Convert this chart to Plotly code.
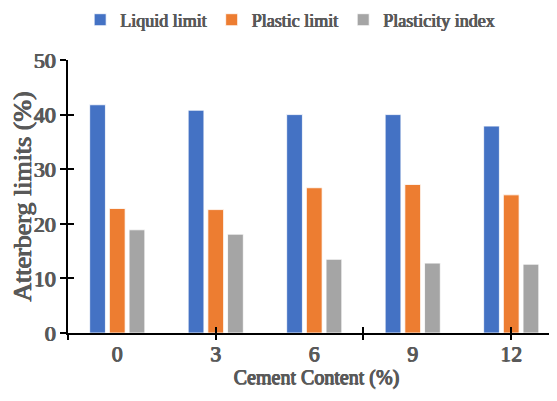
import plotly.graph_objects as go

categories = ["0", "3", "6", "9", "12"]
liquid_limit = [41.8, 40.8, 40.0, 40.0, 37.9]
plastic_limit = [22.8, 22.6, 26.6, 27.2, 25.3]
plasticity_index = [18.9, 18.1, 13.5, 12.8, 12.6]

series = [
    ("Liquid limit", liquid_limit, "#4472C4"),
    ("Plastic limit", plastic_limit, "#ED7D31"),
    ("Plasticity index", plasticity_index, "#A5A5A5"),
]

FONT = "Liberation Serif"
GREY = "#595959"
SH = "0.6px 0 0 #595959, -0.5px 0 0 #595959, 0 0.4px 0 #595959"


def f(size):
    return dict(family=FONT, size=size, color=GREY, weight="normal", shadow=SH)


fig = go.Figure()
for name, vals, col in series:
    fig.add_trace(go.Bar(
        x=categories, y=vals, name=name,
        marker=dict(color=col, line=dict(color="rgba(255,255,255,0.8)", width=1)),
    ))

fig.add_trace(go.Scatter(x=[], y=[], xaxis="x2", yaxis="y2", showlegend=False, hoverinfo="skip"))
fig.add_trace(go.Scatter(x=[], y=[], xaxis="x3", yaxis="y", showlegend=False, hoverinfo="skip"))

xr = [-0.5, 4.546]
tick_common = dict(tickwidth=1.5, tickcolor="black", ticklen=6,
                   showgrid=False, zeroline=False, automargin=False)
fig.update_layout(
    width=557, height=401,
    margin=dict(l=60, r=0, t=52, b=76, autoexpand=False),
    paper_bgcolor="white", plot_bgcolor="white",
    barmode="group", bargap=0.4, bargroupgap=0.2,
    font=f(20),
    legend=dict(
        orientation="h", x=0.447, xanchor="center", y=1.1465, yanchor="middle",
        font=f(18), itemwidth=30, tracegroupgap=0, itemclick=False,
    ),
    xaxis=dict(
        type="category", range=xr, showline=True, linecolor="black", linewidth=1.5,
        ticks="", showgrid=False, zeroline=False, automargin=False,
        tickfont=f(22),
        title=dict(text="Cement Content (%)", standoff=4, font=f(20)),
    ),
    xaxis2=dict(
        overlaying="x", anchor="y2", side="bottom", range=xr, type="linear",
        tickmode="array", tickvals=[-0.5, 1, 2.5, 4], showticklabels=False,
        ticks="inside", showline=False, **tick_common,
    ),
    xaxis3=dict(
        overlaying="x", anchor="y", side="bottom", range=xr, type="linear",
        tickmode="array", tickvals=[-0.5, 1, 2.5, 4], showticklabels=False,
        ticks="outside", showline=False, **tick_common,
    ),
    yaxis=dict(
        range=[0, 50], tickmode="array", tickvals=[0, 10, 20, 30, 40, 50],
        showline=True, linecolor="black", linewidth=1.5,
        ticks="outside", **tick_common,
        tickfont=f(22),
        title=dict(text="Atterberg limits (%)", standoff=10, font=f(26)),
    ),
    yaxis2=dict(
        overlaying="y", anchor="x2", side="left", range=[0, 50],
        tickmode="array", tickvals=[0, 10, 20, 30, 40, 50], showticklabels=False,
        ticks="inside", showline=False, **tick_common,
    ),
)

fig.write_html("out.html")
